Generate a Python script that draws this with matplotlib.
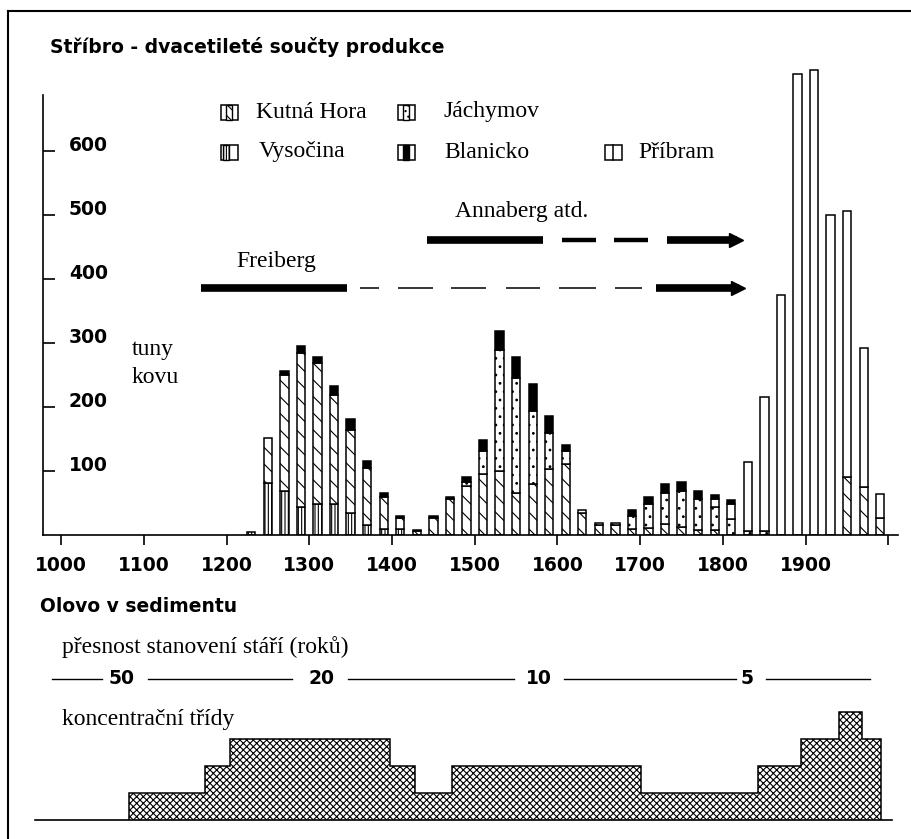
import matplotlib
matplotlib.use('Agg')
import matplotlib.pyplot as plt
from matplotlib.patches import Rectangle
from matplotlib.transforms import offset_copy
import numpy as np

plt.rcParams['hatch.linewidth'] = 0.8

# ---------------- data ----------------
years = list(range(1230, 2000, 20))
vysocina = [5, 81, 69, 43, 49, 49, 34, 16, 10, 10, 0, 0, 0, 0, 0, 0, 0, 0, 0, 0,
            0, 0, 0, 0, 0, 0, 0, 0, 0, 0, 0, 0, 0, 0, 0, 0, 0, 0, 0]
kutna_hora = [0, 70, 181, 241, 219, 170, 130, 89, 49, 17, 6, 27, 56, 76, 95, 100, 65, 80, 103, 111,
              34, 15, 15, 10, 11, 17, 13, 8, 8, 0, 0, 0, 0, 0, 0, 0, 91, 75, 26]
jachymov = [0, 0, 0, 0, 0, 0, 0, 0, 0, 0, 0, 0, 0, 7, 36, 189, 180, 113, 56, 20,
            5, 4, 4, 19, 37, 48, 56, 48, 36, 25, 7, 7, 0, 0, 0, 0, 0, 0, 0]
pribram = [0, 0, 0, 0, 0, 0, 0, 0, 0, 0, 0, 0, 0, 0, 0, 0, 0, 0, 0, 0,
           0, 0, 0, 0, 0, 0, 0, 0, 12, 23, 107, 208, 375, 720, 727, 500, 416, 217, 38]
blanicko = [0, 0, 7, 12, 10, 14, 18, 10, 6, 2, 2, 2, 4, 8, 17, 30, 33, 43, 27, 9,
            0, 0, 0, 10, 12, 15, 14, 12, 7, 7, 0, 0, 0, 0, 0, 0, 0, 0, 0]

x_ticks = list(range(1000, 2001, 100))
x_labels = [str(t) for t in x_ticks[:-1]] + ['']
y_ticks = [100, 200, 300, 400, 500, 600]

# mining periods (years) for the Freiberg / Annaberg arrows
freiberg_solid = (1169, 1346)
freiberg_dashes = [(1361, 1384), (1407, 1450), (1471, 1514), (1538, 1579), (1602, 1647), (1669, 1702)]
freiberg_arrow = (1719, 1827)
annaberg_solid = (1442, 1582)
annaberg_dashes = [(1605, 1647), (1668, 1709)]
annaberg_arrow = (1732, 1825)

# lead in sediment: concentration classes
lead_edges = [1082, 1174, 1204, 1398, 1428, 1472, 1701, 1842, 1894, 1940, 1968, 1991]
lead_levels = [1, 2, 3, 2, 1, 2, 1, 2, 3, 4, 3]
precision_labels = ['50', '20', '10', '5']

# ---------------- layout helpers ----------------
W, H = 912, 839
fig = plt.figure(figsize=(W / 100, H / 100), dpi=100)
SANS = 'DejaVu Sans'
SERIF = 'Liberation Serif'


def yr(px):
    return 1000 + (px - 61) / 0.8275


def rect(l, r, top, bottom):
    return [l / W, 1 - bottom / H, (r - l) / W, (bottom - top) / H]


YS = 0.64  # px per tonne
YMAX = 760
ax = fig.add_axes(rect(43, 898, 535 - YMAX * YS, 535))
ax.set_xlim(yr(43), yr(898))
ax.set_ylim(0, YMAX)
ax.patch.set_alpha(0)
for s in ['top', 'right']:
    ax.spines[s].set_visible(False)
ax.spines['left'].set_bounds(0, (535 - 95) / YS)
for s in ['left', 'bottom']:
    ax.spines[s].set_linewidth(1.2)

series = [
    (vysocina, dict(facecolor='white', hatch='|||||')),
    (kutna_hora, dict(facecolor='white', hatch='\\\\')),
    (jachymov, dict(facecolor='white', hatch='..')),
    (pribram, dict(facecolor='white')),
    (blanicko, dict(facecolor='black')),
]
yarr = np.array(years, dtype=float)
bottom = np.zeros(len(years))
for vals, style in series:
    v = np.array(vals, dtype=float)
    m = v > 0
    ax.bar(yarr[m], v[m], width=10, bottom=bottom[m], edgecolor='black', linewidth=1.1, **style)
    bottom += v

ax.set_xticks(x_ticks, labels=x_labels, fontweight='bold', fontsize=13.5, family=SANS)
ax.tick_params(axis='x', direction='out', length=7.2, width=1.2, pad=8)
ax.set_yticks(y_ticks, labels=[str(t) for t in y_ticks], fontweight='bold', fontsize=13.5,
              family=SANS, ha='left', va='baseline')
ax.tick_params(axis='y', direction='in', length=8.6, width=1.2, pad=-18.7)

# arrows
yF = (535 - 288) / YS
yA = (535 - 240) / YS
ax.plot(freiberg_solid, [yF, yF], color='black', lw=5.5, solid_capstyle='butt')
for a, b in freiberg_dashes:
    ax.plot([a, b], [yF, yF], color='black', lw=1.1, solid_capstyle='butt')
ax.plot(annaberg_solid, [yA, yA], color='black', lw=5.5, solid_capstyle='butt')
for a, b in annaberg_dashes:
    ax.plot([a, b], [yA, yA], color='black', lw=3.2, solid_capstyle='butt')
ms = 10.5
for (a, b), y in [(freiberg_arrow, yF), (annaberg_arrow, yA)]:
    ax.plot([a, b - 8], [y, y], color='black', lw=5.5, solid_capstyle='butt')
    tr = offset_copy(ax.transData, fig=fig, x=-ms / 2, units='points')
    ax.plot([b], [y], marker='>', ms=ms, color='black', mec='black', transform=tr)

ax.text(yr(276), (535 - 262) / YS, 'Freiberg', ha='center', va='center', family=SERIF, fontsize=17)
ax.text(yr(522), (535 - 212) / YS, 'Annaberg atd.', ha='center', va='center', family=SERIF, fontsize=17)
ax.text(yr(132), (535 - 350) / YS, 'tuny', ha='left', va='center', family=SERIF, fontsize=17)
ax.text(yr(132), (535 - 378) / YS, 'kovu', ha='left', va='center', family=SERIF, fontsize=17)

# ---------------- lead axes ----------------
LS = 27
bx = fig.add_axes(rect(35, 892, 820 - 4.5 * LS, 820))
bx.set_xlim(yr(35), yr(892))
bx.set_ylim(0, 4.5)
bx.patch.set_alpha(0)
for s in ['top', 'right', 'left']:
    bx.spines[s].set_visible(False)
bx.spines['bottom'].set_linewidth(1.2)
bx.set_xticks([])
bx.set_yticks([])
bx.stairs(lead_levels, lead_edges, fill=True, baseline=0, facecolor='white', edgecolor='black',
          hatch='xxxxx', linewidth=1.1)

# ---------------- overlay (pixel coords) ----------------
ov = fig.add_axes([0, 0, 1, 1])
ov.set_xlim(0, W)
ov.set_ylim(H, 0)
ov.axis('off')
ov.patch.set_alpha(0)

ov.plot([8, W], [11, 11], color='black', lw=1.5)
ov.plot([8, 8], [11, H], color='black', lw=1.5)

ov.text(50, 47, 'Stříbro - dvacetileté součty produkce', ha='left', va='center',
        family=SANS, fontweight='bold', fontsize=13.5)
ov.text(40, 606, 'Olovo v sedimentu', ha='left', va='center',
        family=SANS, fontweight='bold', fontsize=13.5)
ov.text(62, 647, 'přesnost stanovení stáří (roků)', ha='left', va='center',
        family=SERIF, fontsize=17)
ov.text(62, 720, 'koncentrační třídy', ha='left', va='center', family=SERIF, fontsize=17)

row_y = 679
for a, b in [(52, 102), (148, 292), (348, 514), (564, 736), (766, 870)]:
    ov.plot([a, b], [row_y, row_y], color='black', lw=1.0)
for lab, cx in zip(precision_labels, [122, 322, 539, 747]):
    ov.text(cx, row_y, lab, ha='center', va='center', family=SANS, fontweight='bold', fontsize=13.5)

# legend
legend_spec = [
    ('Kutná Hora', 221, 112, 256, dict(facecolor='white', hatch='\\\\\\'), 5.5),
    ('Jáchymov', 398, 112, 444, dict(facecolor='white', hatch='...'), 5.5),
    ('Vysočina', 221, 152, 259, dict(facecolor='white', hatch='||||||'), 2.5),
    ('Blanicko', 398, 152, 444, dict(facecolor='black'), 5.5),
    ('Příbram', 605, 152, 638, None, 0),
]
for name, bxp, byp, tx, style, off in legend_spec:
    ov.add_patch(Rectangle((bxp, byp - 7.5), 17, 15, fill=False, edgecolor='black', lw=1.1))
    if style is None:
        ov.plot([bxp + 8.5, bxp + 8.5], [byp - 7.5, byp + 7.5], color='black', lw=1.1)
    else:
        ov.add_patch(Rectangle((bxp + off, byp - 7.5), 6, 15, edgecolor='black', lw=1.0, **style))
    ov.text(tx, byp, name, ha='left', va='center', family=SERIF, fontsize=17)

fig.savefig('out.png', dpi=100)
